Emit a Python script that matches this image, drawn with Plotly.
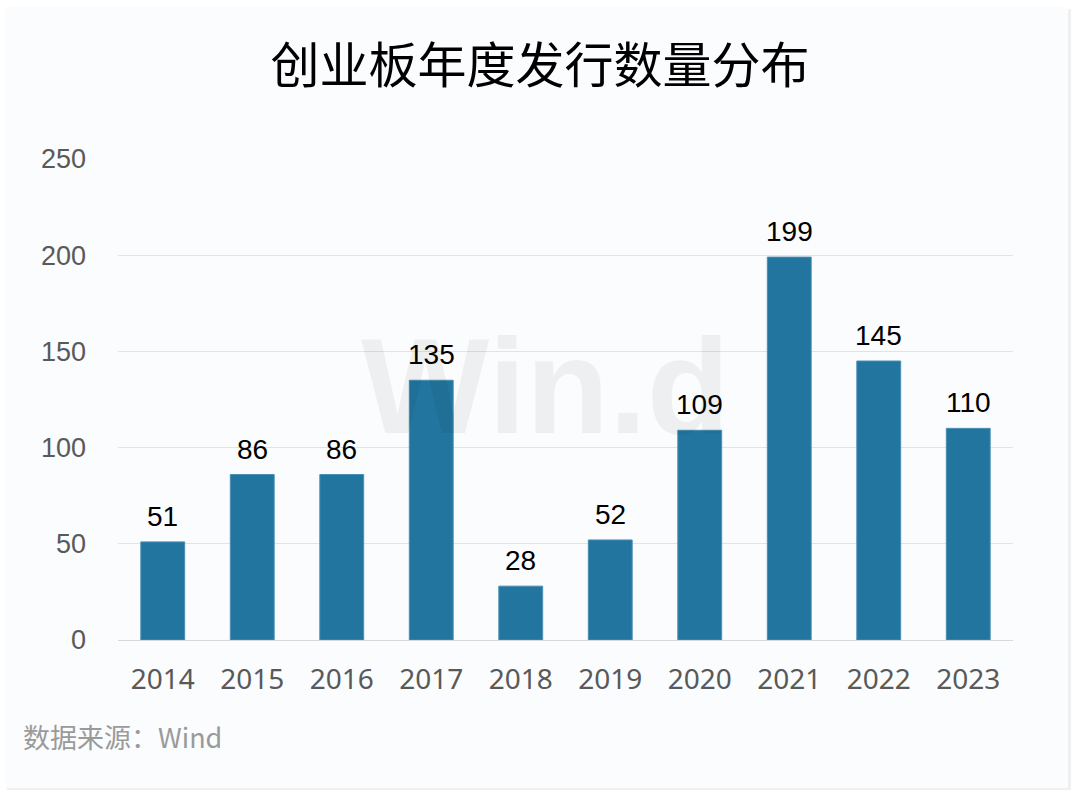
import plotly.graph_objects as go

years = ["2014", "2015", "2016", "2017", "2018", "2019", "2020", "2021", "2022", "2023"]
counts = [51, 86, 86, 135, 28, 52, 109, 199, 145, 110]
y_ticks = [0, 50, 100, 150, 200, 250]

title_text = "创业板年度发行数量分布"
source_text = "数据来源：Wind"
watermark_text = "Win.d"

W, H = 1080, 800
L, R, T, B = 118, 67, 159, 160
pw, ph = W - L - R, H - T - B

def px_x(x):
    return (x - L) / pw

def px_y(y):
    return (H - B - y) / ph

fig = go.Figure()
fig.add_trace(go.Bar(
    x=years, y=counts,
    marker=dict(color="#21759f", line=dict(color="#4a8fb3", width=1)),
    width=0.49,
    hoverinfo="x+y",
))

annotations = []
for i, v in enumerate(counts):
    annotations.append(dict(
        x=i, y=v, xref="x", yref="y", text=str(v), showarrow=False,
        yanchor="bottom", yshift=8,
        font=dict(family="Liberation Sans, Arial", size=28, color="#000000"),
    ))
annotations.append(dict(
    x=px_x(545), y=px_y(386), xref="paper", yref="paper", text=watermark_text,
    showarrow=False, xanchor="center", yanchor="middle",
    font=dict(family="Liberation Sans, Arial", size=136, color="rgba(0,0,0,0.05)", weight="bold"),
))
annotations.append(dict(
    x=px_x(21), y=px_y(736), xref="paper", yref="paper", text=source_text,
    showarrow=False, xanchor="left", yanchor="middle",
    font=dict(family="Noto Sans CJK SC", size=27, color="#9a9a9a"),
))

shapes = [
    dict(type="rect", xref="paper", yref="paper", layer="below",
         x0=px_x(7), x1=px_x(1071), y0=px_y(790), y1=px_y(9),
         fillcolor="#f0f0f0", line=dict(width=0)),
    dict(type="rect", xref="paper", yref="paper", layer="below",
         x0=px_x(5), x1=px_x(1068), y0=px_y(788), y1=px_y(7),
         fillcolor="#fafcfe", line=dict(width=0)),
]

fig.update_layout(
    width=W, height=H,
    margin=dict(l=L, r=R, t=T, b=B),
    paper_bgcolor="#ffffff",
    plot_bgcolor="rgba(0,0,0,0)",
    showlegend=False,
    title=dict(text=title_text, x=0.5, xref="container", xanchor="center",
               y=1 - 66 / H, yanchor="middle",
               font=dict(family="Noto Sans CJK SC", size=49, color="#000000")),
    annotations=annotations,
    shapes=shapes,
    bargap=0.51,
)
fig.update_xaxes(
    type="category", range=[-0.5, len(years) - 0.5],
    showgrid=False, showline=True, linecolor="#d9d9d9", linewidth=1,
    ticks="", ticklabelstandoff=14,
    tickfont=dict(family="Noto Sans, Liberation Sans", size=28, color="#595959"),
)
fig.update_yaxes(
    range=[0, 250], tickvals=y_ticks, showgrid=True, gridcolor="#e3e3e3", gridwidth=1,
    zeroline=False, showline=False, ticks="", ticklabelstandoff=31,
    tickfont=dict(family="Liberation Sans, Arial", size=27, color="#595959"),
)

fig.write_html("out.html")
